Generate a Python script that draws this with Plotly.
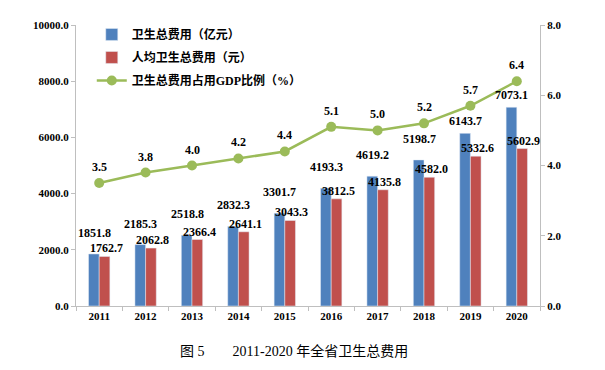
import plotly.graph_objects as go

years = ["2011", "2012", "2013", "2014", "2015", "2016", "2017", "2018", "2019", "2020"]
total_exp = [1851.8, 2185.3, 2518.8, 2832.3, 3301.7, 4193.3, 4619.2, 5198.7, 6143.7, 7073.1]
per_capita = [1762.7, 2062.8, 2366.4, 2641.1, 3043.3, 3812.5, 4135.8, 4582.0, 5332.6, 5602.9]
gdp_share = [3.5, 3.8, 4.0, 4.2, 4.4, 5.1, 5.0, 5.2, 5.7, 6.4]

left_ticks = [0, 2000, 4000, 6000, 8000, 10000]
right_ticks = [0, 2, 4, 6, 8]

name_total = "卫生总费用（亿元）"
name_pc = "人均卫生总费用（元）"
name_gdp = "卫生总费用占用GDP比例（%）"
caption = "图 5　　2011-2020 年全省卫生总费用"

BLUE = "#4F81BD"
RED = "#C0504D"
GREEN = "#9BBB59"
SERIF = "Liberation Serif, Times New Roman, Noto Sans CJK SC, serif"

fig = go.Figure()
fig.add_trace(go.Bar(x=years, y=total_exp, name=name_total, marker_color=BLUE,
                     offsetgroup="a", legendgroup="g1"))
fig.add_trace(go.Bar(x=years, y=per_capita, name=name_pc, marker_color=RED,
                     offsetgroup="b", legendgroup="g2"))
fig.add_trace(go.Scatter(x=years, y=gdp_share, name=name_gdp, yaxis="y2",
                         mode="lines+markers", line=dict(color=GREEN, width=2.5),
                         marker=dict(size=10, color=GREEN), legendgroup="g3"))

lab_font = dict(family=SERIF, size=12, color="black", weight="bold")
annotations = []
for i, v in enumerate(total_exp):
    # tall bars sit close to the line, so their labels hug the bar top
    shift = 21 if v < 6000 else 12
    annotations.append(dict(x=i, y=v, xref="x", yref="y", text=f"{v:.1f}",
                            showarrow=False, xshift=-5, yshift=shift, font=lab_font))
for i, v in enumerate(per_capita):
    annotations.append(dict(x=i, y=v, xref="x", yref="y", text=f"{v:.1f}",
                            showarrow=False, xshift=7, yshift=8, font=lab_font))
for i, v in enumerate(gdp_share):
    annotations.append(dict(x=i, y=v, xref="x", yref="y2", text=f"{v:.1f}",
                            showarrow=False, yshift=16, font=lab_font))
annotations.append(dict(x=0.47, y=-0.16, xref="paper", yref="paper", text=caption,
                        showarrow=False, xanchor="center", yanchor="middle",
                        font=dict(family="Liberation Serif, Noto Sans CJK SC, serif",
                                  size=14, color="black")))

axis_font = dict(family=SERIF, size=11, color="black", weight="bold")
fig.update_layout(
    width=597, height=362,
    margin=dict(l=68, r=65, t=17, b=64),
    paper_bgcolor="white", plot_bgcolor="white",
    barmode="group", bargap=0.54, bargroupgap=0,
    showlegend=True,
    legend=dict(x=0.034, y=1.018, xanchor="left", yanchor="top",
                bgcolor="rgba(0,0,0,0)", tracegroupgap=4,
                font=dict(family=SERIF, size=12, color="black", weight="bold")),
    xaxis=dict(type="category", range=[-0.5, len(years) - 0.5],
               showline=True, linecolor="#BFBFBF", linewidth=1,
               ticks="outside", tickson="boundaries", ticklen=4, tickcolor="#BFBFBF",
               showgrid=False, tickfont=axis_font, fixedrange=True),
    yaxis=dict(range=[0, 10000], tickvals=left_ticks,
               ticktext=[f"{t:.1f}" for t in left_ticks],
               showline=True, linecolor="#BFBFBF", linewidth=1,
               ticks="outside", ticklen=4, tickcolor="#BFBFBF",
               showgrid=False, zeroline=False, tickfont=axis_font),
    yaxis2=dict(range=[0, 8], tickvals=right_ticks,
                ticktext=[f"{t:.1f}" for t in right_ticks],
                overlaying="y", side="right",
                showline=True, linecolor="#BFBFBF", linewidth=1,
                ticks="outside", ticklen=4, tickcolor="#BFBFBF",
                showgrid=False, zeroline=False, tickfont=axis_font),
    annotations=annotations,
)

fig.write_html("out.html")
